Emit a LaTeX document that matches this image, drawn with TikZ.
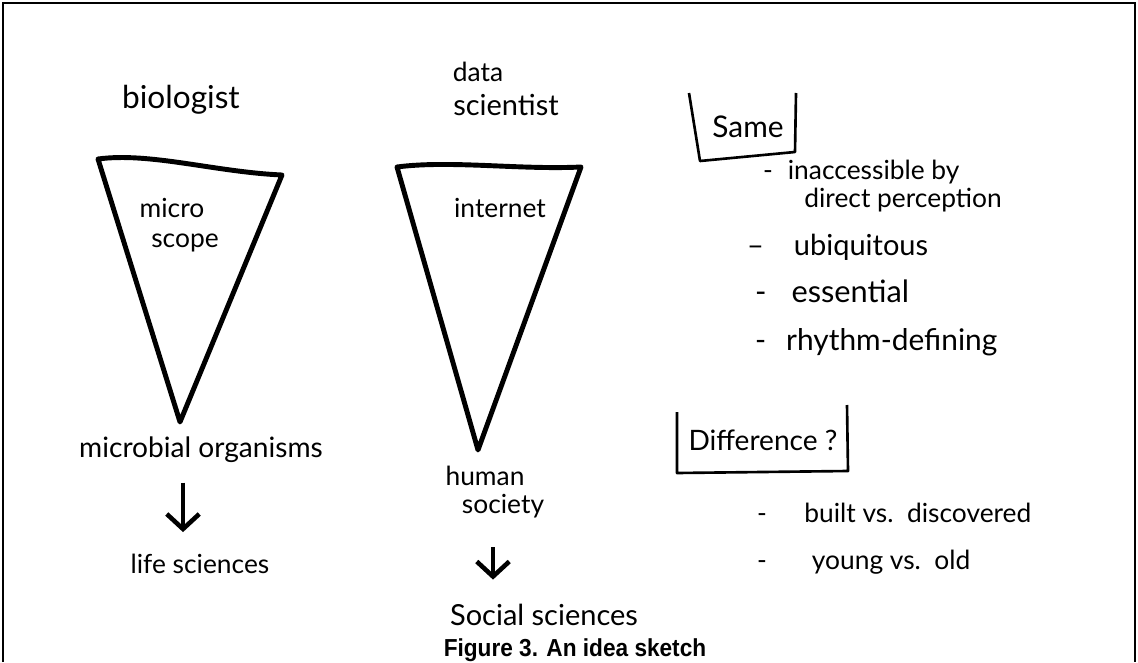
\documentclass[tikz,border=0pt]{standalone}
\usepackage{fontspec}
\setmainfont{Lato}
\newfontfamily\capfont[FakeStretch=0.92]{Liberation Sans}
\usetikzlibrary{arrows.meta, positioning}
\newcommand{\handsz}[1]{\fontsize{#1}{#1}\selectfont}

\begin{document}
\begin{tikzpicture}[
			x=0.02cm, y=-0.02cm,
			hand/.style={font=\handsz{15}, inner sep=1pt},
			funnel/.style={draw, line width=2.8pt, line join=round},
			bracket/.style={line width=1.5pt, line join=round},
			arrow/.style={-{Straight Barb[length=3mm, width=6.5mm]}, line width=2.6pt},
			frame/.style={line width=1.3pt}
			]
			\useasboundingbox (0,0) rectangle (1138,662);
			\draw[frame] (3,662) -- (3,3) -- (1135,3) -- (1135,662);
			
			% biologist
			\node[hand, font=\handsz{18}] (bio) at (181,100) {biologist};
			\coordinate (btl) at (98,159);
			\coordinate (btr) at (282,175);
			\coordinate (bbot) at (180,422);
			\draw[funnel] (btl) .. controls (150,152) and (215,172) .. (btr) -- (bbot) -- cycle;
			\node[hand] (micro) at (172,208) {micro};
			\node[hand] (scope) at (185,243) {scope};
			\node[hand, font=\handsz{16}] (micorg) at (201,450) {microbial organisms};
			\node[hand] (life) at (200,564) {life sciences};
			\draw[arrow, shorten <=0.35cm, shorten >=0.4cm] ([xshift=-0.36cm]micorg.south) -- ([xshift=-0.36cm]micorg.south |- life.north);
			
			% data scientist
			\node[hand] (data) at (478,72) {data};
			\node[hand, font=\handsz{16.5}] (sci) at (506,105) {scientist};
			\coordinate (dtl) at (397,167);
			\coordinate (dtr) at (581,167);
			\coordinate (dbot) at (478,450);
			\draw[funnel] (dtl) .. controls (450,160) and (520,170) .. (dtr) -- (dbot) -- cycle;
			\node[hand] (net) at (500,208) {internet};
			\node[hand] (human) at (485,476) {human};
			\node[hand] (society) at (503,506) {society};
			\node[hand, font=\handsz{16.5}] (social) at (544,615) {Social sciences};
			\draw[arrow, shorten <=0.55cm, shorten >=0.45cm] ([xshift=-0.2cm]society.south) -- ([xshift=-0.2cm]society.south |- social.north);
			
			% same
			\node[hand, font=\handsz{17}] (same) at (748,127) {Same};
			\draw[bracket] (689,93) -- (700,161) -- (795,152) -- (796,93);
			\node[hand, anchor=west] (inacc) at (761,172) {-\hspace{0.3cm}inaccessible by};
			\node[hand] (direct) at (903,200) {direct perception};
			\node[hand, font=\handsz{16.5}, anchor=west] (ubiq) at (745,247) {--\hspace{0.6cm}ubiquitous};
			\node[hand, font=\handsz{17.5}, anchor=west] (ess) at (753,291) {-\hspace{0.5cm}essential};
			\node[hand, font=\handsz{17}, anchor=west] (rhythm) at (753,342) {-\hspace{0.4cm}rhythm-defining};
			
			% difference
			\node[hand, font=\handsz{16}] (diff) at (763,440) {Difference ?};
			\draw[bracket] (677,412) -- (677,473) -- (848,471) -- (847,405);
			\node[hand, anchor=west] (built) at (755,513) {-\hspace{0.75cm}built vs.\ \ discovered};
			\node[hand, anchor=west] (young) at (755,562) {-\hspace{0.9cm}young vs.\ \ old};
			
			\node[font=\capfont\bfseries\handsz{14}] (cap) at (575,650) {Figure 3. An idea sketch};
		\end{tikzpicture}
\end{document}
